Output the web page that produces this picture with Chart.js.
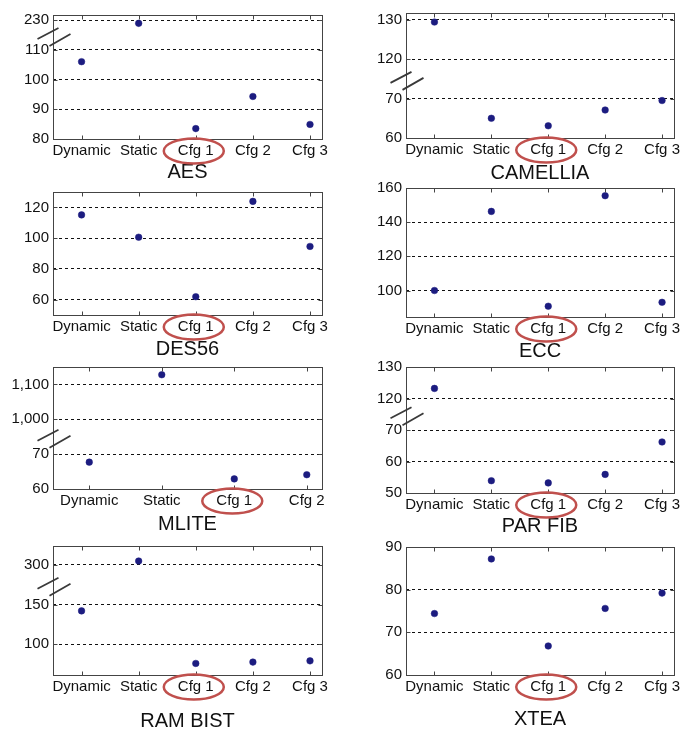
<!DOCTYPE html>
<html><head><meta charset="utf-8">
<script src="https://cdn.jsdelivr.net/npm/chart.js@4.4.1/dist/chart.umd.min.js"></script>
<style>
html,body{margin:0;padding:0;background:#fff;}
#wrap{position:relative;width:695px;height:729px;overflow:hidden;background:#fff;}
#wrap canvas{position:absolute;}
</style></head>
<body><div id="wrap"></div>
<script>
// ---- data ----
const categories5 = ['Dynamic', 'Static', 'Cfg 1', 'Cfg 2', 'Cfg 3'];
const categories4 = ['Dynamic', 'Static', 'Cfg 1', 'Cfg 2'];

const aesValues      = [106.0, 228.9, 83.5, 94.3, 84.9];
const camelliaValues = [129.4, 65.0, 63.1, 67.1, 69.5];
const des56Values    = [115.1, 100.6, 61.9, 123.9, 94.6];
const eccValues      = [100.0, 146.3, 90.8, 155.5, 93.1];
const mliteValues    = [67.7, 1127.8, 62.9, 64.1];
const parfibValues   = [123.2, 53.9, 53.2, 55.9, 66.2];
const rambistValues  = [142.0, 305.0, 75.6, 77.3, 78.9];
const xteaValues     = [74.4, 87.2, 66.8, 75.6, 79.2];

const aesTicks      = [80, 90, 100, 110, 230];
const camelliaTicks = [60, 70, 120, 130];
const des56Ticks    = [60, 80, 100, 120];
const eccTicks      = [100, 120, 140, 160];
const mliteTicks    = [60, 70, 1000, 1100];
const parfibTicks   = [50, 60, 70, 120, 130];
const rambistTicks  = [100, 150, 300];
const xteaTicks     = [60, 70, 80, 90];

// ---- layout / axis configuration ----
Chart.defaults.font.family = '"Liberation Sans", Arial, sans-serif';
const TEXT = '#111';
const COLS = [{x: 0, w: 345, l: 53, r: 322}, {x: 345, w: 350, l: 406, r: 674}];

const panels = [
  {title: 'AES', cats: categories5, values: aesValues, ticks: aesTicks, col: 0, t: 15, b: 139, titleY: 172, min: 80, max: 121.7,
   brk: {split: 170, base: 230, at: 120, ratio: 1}},
  {title: 'CAMELLIA', cats: categories5, values: camelliaValues, ticks: camelliaTicks, col: 1, t: 13, b: 138, titleY: 172.5, min: 60, max: 91.7,
   brk: {split: 95, base: 120, at: 80, ratio: 1}},
  {title: 'DES56', cats: categories5, values: des56Values, ticks: des56Ticks, col: 0, t: 192, b: 315, titleY: 349, min: 50, max: 130},
  {title: 'ECC', cats: categories5, values: eccValues, ticks: eccTicks, col: 1, t: 188, b: 317, titleY: 350.5, min: 84.5, max: 160},
  {title: 'MLITE', cats: categories4, values: mliteValues, ticks: mliteTicks, col: 0, t: 367, b: 489, titleY: 524, min: 60, max: 95,
   brk: {split: 500, base: 1000, at: 80, ratio: 0.1}},
  {title: 'PAR FIB', cats: categories5, values: parfibValues, ticks: parfibTicks, col: 1, t: 367, b: 493, titleY: 525.5, min: 50, max: 90,
   brk: {split: 95, base: 120, at: 80, ratio: 1}},
  {title: 'RAM BIST', cats: categories5, values: rambistValues, ticks: rambistTicks, col: 0, t: 546, b: 675, titleY: 721, min: 61, max: 224,
   brk: {split: 225, base: 300, at: 200, ratio: 1}},
  {title: 'XTEA', cats: categories5, values: xteaValues, ticks: xteaTicks, col: 1, t: 547, b: 675, titleY: 719, min: 60, max: 90}
];

function axisMap(brk) {
  if (!brk) return v => v;
  return v => (v < brk.split ? v : brk.at + (v - brk.base) * brk.ratio);
}

const framePlugin = {
  id: 'frame',
  afterDraw(chart, args, opts) {
    const {ctx, chartArea: a, scales: {x, y}} = chart;
    const L = Math.round(a.left) + 0.5, R = Math.round(a.right) + 0.5;
    const T = Math.round(a.top) + 0.5, B = Math.round(a.bottom) + 0.5;
    ctx.save();
    ctx.setLineDash([]);
    ctx.strokeStyle = '#444';
    ctx.lineWidth = 1;
    ctx.strokeRect(L, T, R - L, B - T);
    ctx.beginPath();
    x.ticks.forEach(tk => {
      const px = Math.round(x.getPixelForValue(tk.value)) + 0.5;
      ctx.moveTo(px, B); ctx.lineTo(px, B - 4);
      ctx.moveTo(px, T); ctx.lineTo(px, T + 4);
    });
    y.ticks.forEach(tk => {
      const py = Math.round(y.getPixelForValue(tk.value)) + 0.5;
      ctx.moveTo(L, py); ctx.lineTo(L + 4, py);
      ctx.moveTo(R, py); ctx.lineTo(R - 4, py);
    });
    ctx.stroke();
    if (opts.breakAt != null) {
      const yc = y.getPixelForValue(opts.breakAt);
      ctx.strokeStyle = '#3a3a3a';
      ctx.lineWidth = 1.8;
      ctx.beginPath();
      ctx.moveTo(L - 16, yc + 4); ctx.lineTo(L + 5, yc - 7);
      ctx.moveTo(L - 4, yc + 11); ctx.lineTo(L + 17, yc - 1);
      ctx.stroke();
    }
    const ex = x.getPixelForValue(opts.highlight) - 2;
    const ey = a.bottom + 12;
    ctx.strokeStyle = '#c0504d';
    ctx.lineWidth = 2.5;
    ctx.beginPath();
    ctx.ellipse(ex, ey, 30, 12.5, 0, 0, Math.PI * 2);
    ctx.stroke();
    ctx.restore();
  }
};

const wrap = document.getElementById('wrap');
panels.forEach(p => {
  const col = COLS[p.col];
  const top = p.t - 22;
  const bottom = Math.round(p.titleY + 16);
  const h = bottom - top;
  const cv = document.createElement('canvas');
  cv.width = col.w; cv.height = h;
  cv.style.left = col.x + 'px'; cv.style.top = top + 'px';
  cv.style.width = col.w + 'px'; cv.style.height = h + 'px';
  wrap.appendChild(cv);

  const map = axisMap(p.brk);
  const tickPos = p.ticks.map(map);
  const tickLabels = p.ticks.map(v => v.toLocaleString('en-US'));
  let breakAt = null;
  if (p.brk) {
    const lower = p.ticks.filter(v => v < p.brk.split);
    breakAt = (Math.max(...lower) + p.brk.at) / 2;
  }
  const hi = p.cats.indexOf('Cfg 1') + 1;

  new Chart(cv, {
    type: 'scatter',
    data: {
      datasets: [{
        data: p.values.map((v, i) => ({x: i + 1, y: map(v)})),
        pointRadius: 3.3,
        pointHoverRadius: 3.3,
        pointBackgroundColor: '#1c1c80',
        pointBorderColor: '#1c1c80',
        pointBorderWidth: 0.5,
        pointStyle: 'circle'
      }]
    },
    options: {
      animation: false,
      responsive: false,
      maintainAspectRatio: false,
      events: [],
      layout: {padding: {top: 22, left: 0, bottom: 0, right: col.x + col.w - col.r}},
      plugins: {
        legend: {display: false},
        tooltip: {enabled: false},
        frame: {breakAt: breakAt, highlight: hi}
      },
      scales: {
        x: {
          type: 'linear',
          min: 0.5,
          max: p.cats.length + 0.21,
          afterBuildTicks: s => { s.ticks = p.cats.map((c, i) => ({value: i + 1})); },
          afterFit: s => { s.height = bottom - p.b; },
          ticks: {
            callback: (v, i) => p.cats[i],
            autoSkip: false, maxRotation: 0, minRotation: 0,
            padding: 3, color: TEXT, font: {size: 15}
          },
          grid: {display: false, drawTicks: false},
          border: {display: false},
          title: {display: true, text: p.title, color: TEXT, font: {size: 20}, padding: {top: 0, bottom: 4}}
        },
        y: {
          type: 'linear',
          min: p.min,
          max: p.max,
          afterBuildTicks: s => { s.ticks = tickPos.map(v => ({value: v})); },
          afterFit: s => { s.width = col.l - col.x; },
          ticks: {callback: (v, i) => tickLabels[i], padding: 4, color: TEXT, font: {size: 15}},
          grid: {color: '#111', lineWidth: 1, drawTicks: false},
          border: {display: false, dash: [3, 3]}
        }
      }
    },
    plugins: [framePlugin]
  });
});
</script>
</body></html>
